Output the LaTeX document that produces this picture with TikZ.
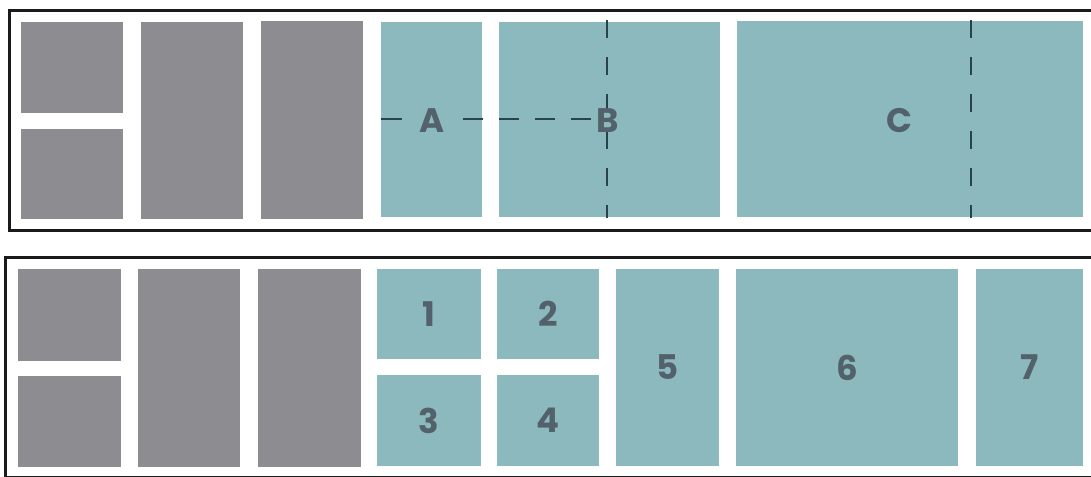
\documentclass[tikz,border=0pt]{standalone}
\usepackage{fontspec}
\setmainfont{Poppins}
\definecolor{boxgray}{HTML}{8D8D91}
\definecolor{boxteal}{HTML}{8BB9BD}
\definecolor{labcol}{HTML}{53616A}
\definecolor{dashcol}{HTML}{27434C}
\definecolor{framecol}{HTML}{1A1A1A}
\begin{document}
\begin{tikzpicture}[x=1pt,y=-1pt,
  gbox/.style={fill=boxgray,draw=none,inner sep=0pt,outer sep=0pt},
  tbox/.style={fill=boxteal,draw=none,inner sep=0pt,outer sep=0pt,
    font=\fontsize{34}{34}\selectfont\bfseries,text=labcol},
  lab/.style={inner sep=0pt,font=\fontsize{34}{34}\selectfont\bfseries,text=labcol},
  frame/.style={draw=framecol,line width=3pt},
  guide/.style={draw=dashcol,line width=2.8pt,dash pattern=on 18pt off 19pt}]
\useasboundingbox (0,0) rectangle (1091,476);
\clip (0,0) rectangle (1091,476);
\fill[white] (0,0) rectangle (1091,476);
% frames
\draw[frame] (9.5,10.5) rectangle (1100,230);
\draw[frame] (5.5,257.5) rectangle (1100,477);
% ---- top panel ----
\node[gbox,minimum width=102pt,minimum height=91pt] (tg1) at (72,67.5) {};
\node[gbox,minimum width=102pt,minimum height=90pt] (tg2) at (72,174) {};
\node[gbox,minimum width=102pt,minimum height=197pt] (tg3) at (192,120.5) {};
\node[gbox,minimum width=102pt,minimum height=198pt] (tg4) at (312,120) {};
\node[tbox,minimum width=101pt,minimum height=195pt] (tA) at (431.5,119.5) {};
\node[tbox,minimum width=221pt,minimum height=195pt] (tB) at (609.5,119.5) {};
\node[tbox,minimum width=346pt,minimum height=196pt] (tC) at (910,119) {};
% guide lines
\coordinate (h1) at (381,119);
\coordinate (h2) at (402,119);
\coordinate (h3) at (463,119);
\coordinate (h4) at (600,119);
\coordinate (vb1) at (607,20);
\coordinate (vb2) at (607,218);
\coordinate (vc1) at (971,20);
\coordinate (vc2) at (971,218);
\draw[draw=dashcol,line width=2.8pt] (h1) -- (h2);
\draw[guide,dash pattern=on 20pt off 16pt] (h3) -- (h4);
\draw[guide] (vb1) -- (vb2);
\draw[guide] (vc1) -- (vc2);
\node[lab] (lA) at (432,121) {A};
\node[lab] (lB) at (608,121) {B};
\node[lab] (lC) at (899,121) {C};
% ---- bottom panel ----
\node[gbox,minimum width=103pt,minimum height=92pt] (bg1) at (69.5,315) {};
\node[gbox,minimum width=103pt,minimum height=91pt] (bg2) at (69.5,421.5) {};
\node[gbox,minimum width=102pt,minimum height=198pt] (bg3) at (189,368) {};
\node[gbox,minimum width=103pt,minimum height=198pt] (bg4) at (309.5,368) {};
\node[tbox,minimum width=104pt,minimum height=90pt] (b1) at (429,314) {1};
\node[tbox,minimum width=102pt,minimum height=90pt] (b2) at (548,314) {2};
\node[tbox,minimum width=104pt,minimum height=91pt] (b3) at (429,420.5) {3};
\node[tbox,minimum width=102pt,minimum height=91pt] (b4) at (548,420.5) {4};
\node[tbox,minimum width=103pt,minimum height=197pt] (b5) at (667.5,367.5) {5};
\node[tbox,minimum width=222pt,minimum height=197pt] (b6) at (847,367.5) {6};
\node[tbox,minimum width=107pt,minimum height=197pt] (b7) at (1029.5,367.5) {7};
\end{tikzpicture}
\end{document}
